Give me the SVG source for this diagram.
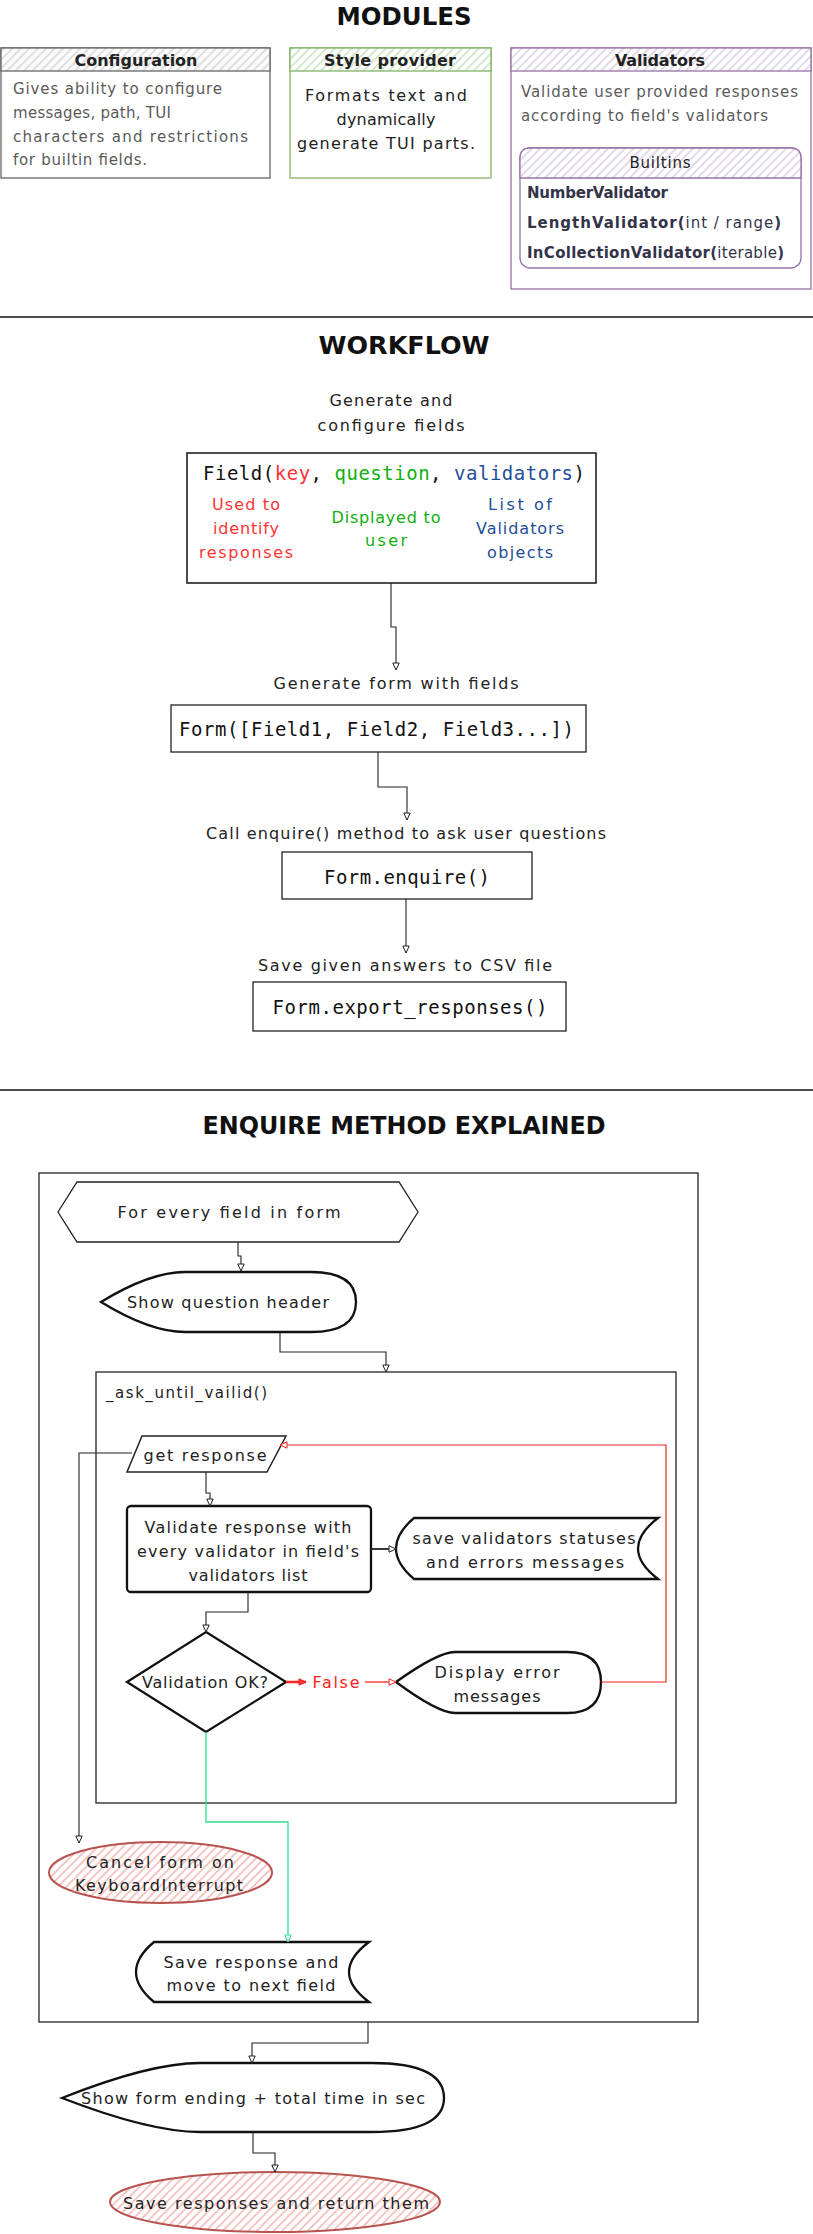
<svg xmlns="http://www.w3.org/2000/svg" width="813" height="2234" viewBox="0 0 813 2234">
<style>
.t{font-family:"DejaVu Sans","Liberation Sans",sans-serif;font-size:15px;fill:#222;dominant-baseline:central}
.c{text-anchor:middle}
.g{fill:#5a5a5a}
.mono{font-family:"DejaVu Sans Mono","Liberation Mono",monospace;font-size:19px;fill:#111;dominant-baseline:central}
.ttl{font-weight:bold;font-size:24px;fill:#111}
.hd{font-weight:bold;font-size:16px;fill:#222}
.box{fill:#fff;stroke:#222;stroke-width:1.3}
.thick{fill:#fff;stroke:#111;stroke-width:2.3}
.edge{fill:none;stroke:#222;stroke-width:1.1}
.red{fill:#ff3333}
.grn{fill:#10b010}
.blu{fill:#1f4e99}
</style>
<defs>
<pattern id="hg" width="6" height="6" patternUnits="userSpaceOnUse" patternTransform="rotate(45)"><rect width="6" height="6" fill="#fbfbfb"/><line x1="1" y1="0" x2="1" y2="6" stroke="#d8d8d8" stroke-width="1.6"/></pattern>
<pattern id="hgr" width="6" height="6" patternUnits="userSpaceOnUse" patternTransform="rotate(45)"><rect width="6" height="6" fill="#fff"/><line x1="1" y1="0" x2="1" y2="6" stroke="#c9e2c4" stroke-width="1.6"/></pattern>
<pattern id="hp" width="6" height="6" patternUnits="userSpaceOnUse" patternTransform="rotate(45)"><rect width="6" height="6" fill="#fff"/><line x1="1" y1="0" x2="1" y2="6" stroke="#ddd0e4" stroke-width="1.6"/></pattern>
<pattern id="hr" width="6" height="6" patternUnits="userSpaceOnUse" patternTransform="rotate(45)"><rect width="6" height="6" fill="#fff"/><line x1="1" y1="0" x2="1" y2="6" stroke="#f2b8b5" stroke-width="1.6"/></pattern>
<marker id="a" markerWidth="10" markerHeight="10" refX="8" refY="4" orient="auto" markerUnits="userSpaceOnUse"><path d="M1,0.8 L8,4 L1,7.2 Z" fill="#fff" stroke="#222" stroke-width="1"/></marker>
<marker id="ar" markerWidth="10" markerHeight="10" refX="8" refY="4" orient="auto" markerUnits="userSpaceOnUse"><path d="M1,0.8 L8,4 L1,7.2 Z" fill="#ff3333" stroke="#ee2222" stroke-width="1"/></marker>
<marker id="arh" markerWidth="10" markerHeight="10" refX="8" refY="4" orient="auto" markerUnits="userSpaceOnUse"><path d="M1,0.8 L8,4 L1,7.2 Z" fill="#fff" stroke="#ee2222" stroke-width="1"/></marker>
<marker id="ag" markerWidth="10" markerHeight="10" refX="8" refY="4" orient="auto" markerUnits="userSpaceOnUse"><path d="M1,0.8 L8,4 L1,7.2 Z" fill="#fff" stroke="#2ee08a" stroke-width="1"/></marker>
</defs>
<rect width="813" height="2234" fill="#fff"/>

<g id="titles">
<text class="t c ttl" x="404" y="17" textLength="135" lengthAdjust="spacingAndGlyphs">MODULES</text>
<line x1="0" y1="317" x2="813" y2="317" stroke="#111" stroke-width="1.6"/>
<text class="t c ttl" x="404" y="346" textLength="171" lengthAdjust="spacingAndGlyphs">WORKFLOW</text>
<line x1="0" y1="1090" x2="813" y2="1090" stroke="#111" stroke-width="1.6"/>
<text class="t c ttl" x="404" y="1126" textLength="403" lengthAdjust="spacingAndGlyphs">ENQUIRE METHOD EXPLAINED</text>
</g>

<g id="configuration">
<rect x="1" y="48" width="269" height="130" fill="#fff" stroke="#666" stroke-width="1.3"/>
<rect x="1" y="48" width="269" height="23" fill="url(#hg)" stroke="#666" stroke-width="1.3"/>
<text class="t c hd" x="136" y="60" textLength="123">Configuration</text>
<text class="t g" x="13" y="89" textLength="209">Gives ability to configure</text>
<text class="t g" x="13" y="113" textLength="158">messages, path, TUI</text>
<text class="t g" x="13" y="137" textLength="235">characters and restrictions</text>
<text class="t g" x="13" y="160" textLength="134">for builtin fields.</text>
</g>

<g id="style-provider">
<rect x="290" y="48" width="201" height="130" fill="#fff" stroke="#82b366" stroke-width="1.3"/>
<rect x="290" y="48" width="201" height="23" fill="url(#hgr)" stroke="#82b366" stroke-width="1.3"/>
<text class="t c hd" x="390" y="60" textLength="132">Style provider</text>
<text class="t c" x="386" y="95" textLength="162" style="font-size:16px">Formats text and</text>
<text class="t c" x="386" y="119" textLength="99" style="font-size:16px">dynamically</text>
<text class="t c" x="386" y="143" textLength="178" style="font-size:16px">generate TUI parts.</text>
</g>

<g id="validators">
<rect x="511" y="48" width="300" height="241" fill="#fff" stroke="#9673a6" stroke-width="1.3"/>
<rect x="511" y="48" width="300" height="23" fill="url(#hp)" stroke="#9673a6" stroke-width="1.3"/>
<text class="t c hd" x="660" y="60" textLength="90">Validators</text>
<text class="t g" x="521" y="92" textLength="277">Validate user provided responses</text>
<text class="t g" x="521" y="116" textLength="247">according to field's validators</text>
</g>

<g id="builtins">
<rect x="520" y="148" width="281" height="120" rx="10" fill="#fff" stroke="#9673a6" stroke-width="1.3"/>
<path d="M520,178 V158 Q520,148 530,148 H791 Q801,148 801,158 V178 Z" fill="url(#hp)" stroke="#9673a6" stroke-width="1.3"/>
<text class="t c" x="660" y="163" textLength="61">Builtins</text>
<text class="t" x="527" y="193" textLength="141" style="font-weight:bold;fill:#33334a">NumberValidator</text>
<text class="t" x="527" y="223" textLength="254" style="fill:#33334a"><tspan style="font-weight:bold">LengthValidator(</tspan>int / range<tspan style="font-weight:bold">)</tspan></text>
<text class="t" x="527" y="253" textLength="257" style="fill:#33334a"><tspan style="font-weight:bold">InCollectionValidator(</tspan>iterable<tspan style="font-weight:bold">)</tspan></text>
</g>

<g id="field">
<text class="t c" x="391" y="400" textLength="123" style="font-size:16px">Generate and</text>
<text class="t c" x="391" y="425" textLength="147" style="font-size:16px">configure fields</text>
<rect class="box" x="187" y="453" width="409" height="130" style="stroke-width:1.6"/>
<text class="mono" x="203" y="473" textLength="382">Field(<tspan class="red">key</tspan>, <tspan class="grn">question</tspan>, <tspan class="blu">validators</tspan>)</text>
<text class="t c red" x="246" y="504" textLength="68" style="font-size:16px">Used to</text>
<text class="t c red" x="246" y="528" textLength="66" style="font-size:16px">identify</text>
<text class="t c red" x="246" y="552" textLength="94" style="font-size:16px">responses</text>
<text class="t c grn" x="386" y="517" textLength="109" style="font-size:16px">Displayed to</text>
<text class="t c grn" x="386" y="540" textLength="42" style="font-size:16px">user</text>
<text class="t c blu" x="520" y="504" textLength="64" style="font-size:16px">List of</text>
<text class="t c blu" x="520" y="528" textLength="88" style="font-size:16px">Validators</text>
<text class="t c blu" x="520" y="552" textLength="66" style="font-size:16px">objects</text>
</g>

<g id="form">
<text class="t c" x="396" y="683" textLength="245" style="font-size:16px">Generate form with fields</text>
<rect class="box" x="171" y="705" width="415" height="47"/>
<text class="mono" x="179" y="729" textLength="395">Form([Field1, Field2, Field3...])</text>
</g>

<g id="enquire">
<text class="t c" x="406" y="833" textLength="400" style="font-size:16px">Call enquire() method to ask user questions</text>
<rect class="box" x="282" y="852" width="250" height="47"/>
<text class="mono c" x="407" y="877" textLength="166">Form.enquire()</text>
</g>

<g id="export">
<text class="t c" x="405" y="965" textLength="294" style="font-size:16px">Save given answers to CSV file</text>
<rect class="box" x="253" y="982" width="313" height="49"/>
<text class="mono c" x="410" y="1007" textLength="275">Form.export_responses()</text>
</g>

<g id="enquire-frame">
<rect class="box" x="39" y="1173" width="659" height="849"/>
</g>

<g id="for-every-field">
<path class="box" d="M58,1212 L77,1182 H399 L418,1212 L399,1242 H77 Z"/>
<text class="t c" x="229" y="1212" textLength="223" style="font-size:16px">For every field in form</text>
</g>

<g id="show-question-header">
<path class="thick" d="M101,1302 Q150,1272 185,1272 H311 Q356,1272 356,1302 Q356,1332 311,1332 H185 Q150,1332 101,1302 Z"/>
<text class="t c" x="228" y="1302" textLength="202" style="font-size:16px">Show question header</text>
</g>

<g id="ask-until-valid">
<rect class="box" x="96" y="1372" width="580" height="431"/>
<text class="t" x="106" y="1393" textLength="161" style="font-size:15px">_ask_until_vailid()</text>
</g>

<g id="get-response">
<path class="box" d="M142,1436 H286 L267,1472 H127 Z" style="stroke-width:1.5"/>
<text class="t c" x="205" y="1455" textLength="123" style="font-size:16px">get response</text>
</g>

<g id="validate">
<rect class="thick" x="127" y="1506" width="244" height="86" rx="4"/>
<text class="t c" x="248" y="1527" textLength="207" style="font-size:16px">Validate response with</text>
<text class="t c" x="248" y="1551" textLength="222" style="font-size:16px">every validator in field's</text>
<text class="t c" x="248" y="1575" textLength="119" style="font-size:16px">validators list</text>
</g>

<g id="save-validators">
<path class="thick" d="M414,1518 H658 Q618,1548.5 658,1579 H414 Q378,1548.5 414,1518 Z"/>
<text class="t c" x="524" y="1538" textLength="223" style="font-size:16px">save validators statuses</text>
<text class="t c" x="525" y="1562" textLength="198" style="font-size:16px">and errors messages</text>
</g>

<g id="validation-ok">
<path class="thick" d="M206,1632 L286,1682 L206,1732 L127,1682 Z"/>
<text class="t c" x="205" y="1682" textLength="126" style="font-size:16px">Validation OK?</text>
</g>

<g id="display-error">
<path class="thick" d="M396,1682 Q438,1652 455,1652 H567 Q601,1652 601,1682 Q601,1713 567,1713 H455 Q438,1713 396,1682 Z"/>
<text class="t c" x="497" y="1672" textLength="125" style="font-size:16px">Display error</text>
<text class="t c" x="497" y="1696" textLength="87" style="font-size:16px">messages</text>
</g>

<g id="cancel-form">
<ellipse cx="160.5" cy="1872.5" rx="111.5" ry="30.5" fill="url(#hr)" stroke="#b85450" stroke-width="2"/>
<text class="t c" x="160" y="1862" textLength="148" style="font-size:16px">Cancel form on</text>
<text class="t c" x="159" y="1885" textLength="168" style="font-size:16px">KeyboardInterrupt</text>
</g>

<g id="save-response">
<path class="thick" d="M154,1942 H369 Q329,1972 369,2002 H154 Q118,1972 154,1942 Z"/>
<text class="t c" x="251" y="1962" textLength="175" style="font-size:16px">Save response and</text>
<text class="t c" x="251" y="1985" textLength="169" style="font-size:16px">move to next field</text>
</g>

<g id="show-form-ending">
<path class="thick" d="M62,2098 Q150,2063 200,2063 H372 Q444,2063 444,2098 Q444,2132 372,2132 H200 Q150,2132 62,2098 Z"/>
<text class="t c" x="253" y="2098" textLength="344" style="font-size:16px">Show form ending + total time in sec</text>
</g>

<g id="save-responses-return">
<ellipse cx="275" cy="2202" rx="165" ry="30" fill="url(#hr)" stroke="#b85450" stroke-width="2"/>
<text class="t c" x="276" y="2203" textLength="306" style="font-size:16px">Save responses and return them</text>
</g>

<g id="connectors">
<path class="edge" d="M391,583 V627 H396 V670" marker-end="url(#a)"/>
<path class="edge" d="M378,752 V787 H407 V820" marker-end="url(#a)"/>
<path class="edge" d="M406,899 V953" marker-end="url(#a)"/>
<path class="edge" d="M238,1242 V1256 H241 V1271" marker-end="url(#a)"/>
<path class="edge" d="M280,1332 V1352 H386 V1372" marker-end="url(#a)"/>
<path class="edge" d="M206,1472 V1493 H210 V1506" marker-end="url(#a)"/>
<path class="edge" d="M371,1549 H396" style="stroke-width:1.8" marker-end="url(#a)"/>
<path class="edge" d="M248,1592 V1612 H206 V1632" marker-end="url(#a)"/>
<path d="M286,1682 H306" fill="none" stroke="#ff2222" stroke-width="2.5" marker-end="url(#ar)"/>
<text class="t c" x="336" y="1682" textLength="47" style="font-size:16px;fill:#ff2222">False</text>
<path d="M365,1682 H396" fill="none" stroke="#ff2222" stroke-width="1.3" marker-end="url(#arh)"/>
<path d="M601,1682 H666 V1445 H280" fill="none" stroke="#e82525" stroke-width="1.2" marker-end="url(#arh)"/>
<path class="edge" d="M132,1453 H79 V1843" marker-end="url(#a)"/>
<path d="M206,1732 V1822 H288 V1942" fill="none" stroke="#2ee08a" stroke-width="1.3" marker-end="url(#ag)"/>
<path class="edge" d="M368,2022 V2043 H252 V2063" marker-end="url(#a)"/>
<path class="edge" d="M253,2132 V2153 H275 V2172" marker-end="url(#a)"/>
</g>
</svg>
